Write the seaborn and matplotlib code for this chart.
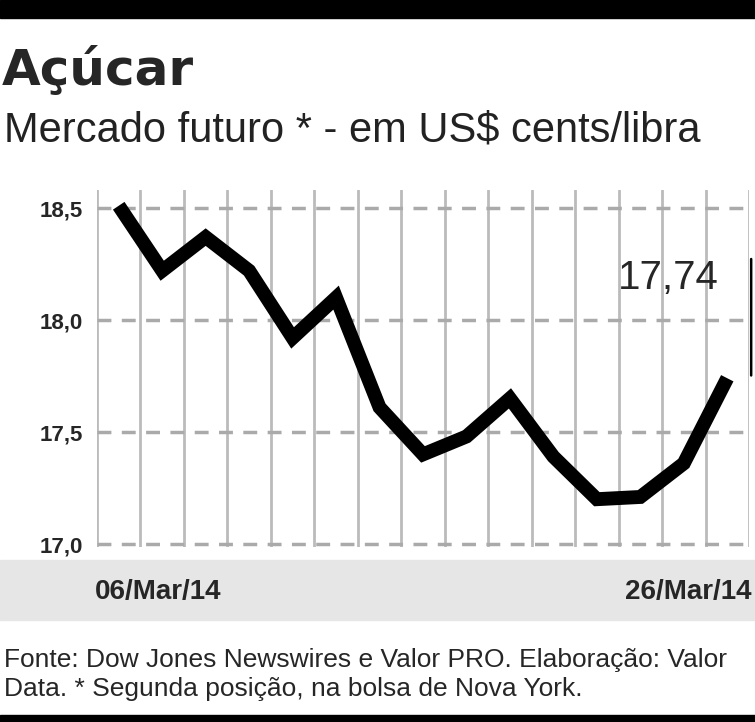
import matplotlib
matplotlib.use("Agg")
import matplotlib.pyplot as plt
import seaborn as sns
import pandas as pd
import numpy as np

values = [18.51, 18.22, 18.37, 18.22, 17.92, 18.10, 17.61, 17.40, 17.48, 17.65, 17.39, 17.20, 17.21, 17.36, 17.74]
yticks = [17.0, 17.5, 18.0, 18.5]
ytick_labels = ["17,0", "17,5", "18,0", "18,5"]
first_label = "06/Mar/14"
last_label = "26/Mar/14"
last_value_label = "17,74"

sns.set_theme(style="white")
plt.rcParams['font.family'] = ['Liberation Sans', 'DejaVu Sans']

W, H = 755, 722
fig = plt.figure(figsize=(W/100, H/100), dpi=100)

def fx(p): return p/W
def fy(p): return 1 - p/H

fig.patches.append(plt.Rectangle((0, fy(18)), 1, 18/H, transform=fig.transFigure, color="black"))
fig.patches.append(plt.Rectangle((0, 0), 1, 7/H, transform=fig.transFigure, color="black"))
fig.patches.append(plt.Rectangle((0, fy(620)), 1, 60/H, transform=fig.transFigure, color="#e6e6e6", zorder=0))

fig.text(fx(2), fy(70), "Açúcar", fontsize=36, fontweight="heavy", va="center", ha="left", family="DejaVu Sans")
fig.text(fx(4), fy(130), "Mercado futuro * - em US$ cents/libra", fontsize=30, va="center", ha="left", color="#222222")

ax = fig.add_axes([fx(97), fy(547), (749-97)/W, (547-190)/H])
ax.set_facecolor("white")
x = np.arange(len(values))
df = pd.DataFrame({"x": x, "v": values})
sns.lineplot(data=df, x="x", y="v", ax=ax, color="black", linewidth=10, solid_joinstyle="miter", solid_capstyle="butt")
ax.set_xlim(-0.5, len(values)-0.5)
ppu = (544-208)/1.5
ax.set_ylim(17.0 - 3/ppu, 18.5 + 18/ppu)
for b in np.arange(-0.5, len(values), 1):
    ax.axvline(b, color="#bbbbbb", lw=2, zorder=0)
for t in yticks:
    ax.axhline(t, color="#aaaaaa", lw=2.5, ls=(0, (4, 3)), zorder=0)
ax.set_yticks(yticks)
ax.set_yticklabels(ytick_labels, fontsize=16, fontweight="bold")
ax.set_xticks([])
ax.set_xlabel(""); ax.set_ylabel("")
ax.tick_params(axis="y", length=0, pad=10)
for s in ax.spines.values():
    s.set_visible(False)

xe = len(values) - 0.45
ax.annotate("", xy=(xe, values[-1]), xytext=(xe, values[-1] + 122/ppu),
            arrowprops=dict(arrowstyle="-", color="black", lw=1.8), annotation_clip=False)
ax.text(xe - 0.75, values[-1] + 100/ppu, last_value_label,
        fontsize=29, ha="right", va="center", fontweight="medium")

fig.text(fx(95), fy(592), first_label, fontsize=20, fontweight="bold", va="center", ha="left")
fig.text(fx(752), fy(592), last_label, fontsize=20, fontweight="bold", va="center", ha="right")

fig.text(fx(4), fy(660), "Fonte: Dow Jones Newswires e Valor PRO. Elaboração: Valor", fontsize=19, va="center", ha="left")
fig.text(fx(4), fy(689), "Data. * Segunda posição, na bolsa de Nova York.", fontsize=19, va="center", ha="left")

fig.savefig("out.png", dpi=100)
